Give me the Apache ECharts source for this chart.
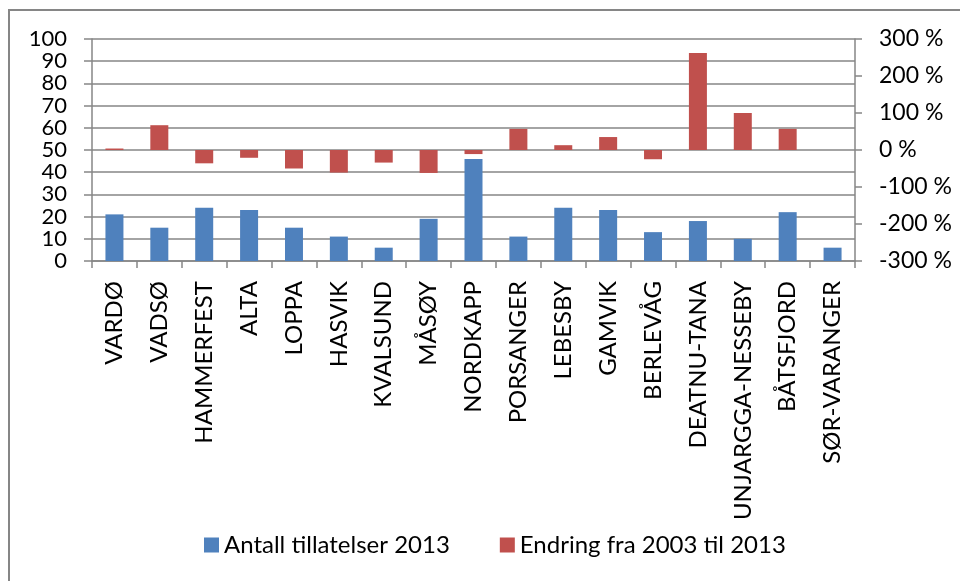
<!DOCTYPE html>
<html>
<head>
<meta charset="utf-8">
<script src="https://cdn.jsdelivr.net/npm/echarts@6/dist/echarts.min.js"></script>
<style>
  html, body { margin: 0; padding: 0; background: #fff; }
  #chart { width: 960px; height: 581px; }
</style>
</head>
<body>
<div id="chart"></div>
<script>
// Municipalities in Finnmark
const categories = ['VARDØ', 'VADSØ', 'HAMMERFEST', 'ALTA', 'LOPPA', 'HASVIK', 'KVALSUND', 'MÅSØY',
  'NORDKAPP', 'PORSANGER', 'LEBESBY', 'GAMVIK', 'BERLEVÅG', 'DEATNU-TANA', 'UNJARGGA-NESSEBY',
  'BÅTSFJORD', 'SØR-VARANGER'];

// Number of permits granted in 2013 (left axis)
const permits2013 = [21, 15, 24, 23, 15, 11, 6, 19, 46, 11, 24, 23, 13, 18, 10, 22, 6];

// Change from 2003 to 2013, in percent (right axis)
const change2003to2013 = [4, 67, -36, -21, -50, -61, -34, -62, -11, 57, 13, 35, -25, 262, 100, 57, null];

const seriesNames = ['Antall tillatelser 2013', 'Endring fra 2003 til 2013'];

const gray = '#868686';
const font = 'Lato, "Open Sans", sans-serif';

const chart = echarts.init(document.getElementById('chart'), null, { renderer: 'canvas' });

chart.setOption({
  backgroundColor: '#ffffff',
  animation: false,
  graphic: [{
    type: 'rect',
    shape: { x: 9, y: 10, width: 1000, height: 1000 },
    style: { fill: 'none', stroke: gray, lineWidth: 2 },
    silent: true
  }],
  grid: { left: 92, right: 105, top: 39, bottom: 320, containLabel: false },
  legend: {
    bottom: 19,
    left: 199,
    itemWidth: 15,
    itemHeight: 15,
    itemGap: 50,
    icon: 'rect',
    textStyle: { fontFamily: font, fontSize: 24, color: '#000' },
    data: seriesNames
  },
  xAxis: {
    type: 'category',
    data: categories,
    boundaryGap: true,
    axisLine: { lineStyle: { color: gray, width: 1.5 } },
    axisTick: { show: true, alignWithLabel: false, length: 7, lineStyle: { color: gray, width: 1.5 } },
    axisLabel: {
      interval: 0,
      rotate: 90,
      margin: 20,
      fontFamily: font,
      fontSize: 24,
      color: '#000'
    }
  },
  yAxis: [{
    type: 'value',
    min: 0,
    max: 100,
    interval: 10,
    axisLine: { show: true, lineStyle: { color: gray, width: 1.5 } },
    axisTick: { show: true, length: 8, lineStyle: { color: gray, width: 1.5 } },
    splitLine: { show: true, lineStyle: { color: gray, width: 1.5 } },
    axisLabel: {
      margin: 25, fontFamily: font, fontSize: 22, color: '#000',
      showMinLabel: true, showMaxLabel: true, hideOverlap: false
    }
  }, {
    type: 'value',
    min: -300,
    max: 300,
    interval: 100,
    position: 'right',
    axisLine: { show: true, lineStyle: { color: gray, width: 1.5 } },
    axisTick: { show: true, length: 7, lineStyle: { color: gray, width: 1.5 } },
    splitLine: { show: false },
    axisLabel: {
      margin: 24, formatter: '{value} %', fontFamily: font, fontSize: 23, color: '#000',
      showMinLabel: true, showMaxLabel: true, hideOverlap: false
    }
  }],
  series: [{
    name: seriesNames[0],
    type: 'bar',
    yAxisIndex: 0,
    barWidth: 18,
    barGap: '-100%',
    itemStyle: { color: '#4F81BD' },
    data: permits2013
  }, {
    name: seriesNames[1],
    type: 'bar',
    yAxisIndex: 1,
    barWidth: 18,
    barGap: '-100%',
    itemStyle: { color: '#C0504D' },
    data: change2003to2013
  }]
});
</script>
</body>
</html>
